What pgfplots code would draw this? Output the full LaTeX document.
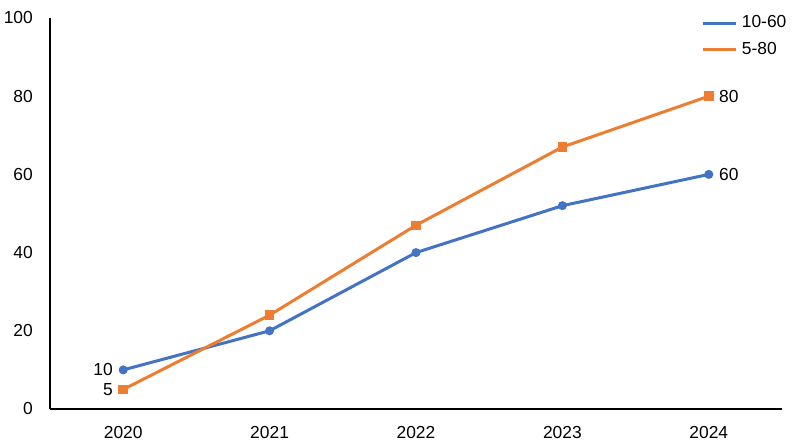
\documentclass[border=0pt]{standalone}
\usepackage{fontspec}
\setmainfont{Liberation Sans}
\usepackage{pgfplots}
\pgfplotsset{compat=1.18}

\definecolor{xlblue}{HTML}{4472C4}
\definecolor{xlorange}{HTML}{ED7D31}

\begin{document}
\begin{tikzpicture}
\fontsize{8.7bp}{10bp}\selectfont
\begin{axis}[
  scale only axis,
  width=366bp, height=195.5bp,
  xmin=-0.5, xmax=4.5,
  ymin=0, ymax=100,
  axis lines*=left,
  axis line style={black, line width=0.8bp},
  xtick={0,1,2,3,4},
  xticklabels={2020,2021,2022,2023,2024},
  ytick={0,20,40,60,80,100},
  major tick length=0pt,
  xticklabel style={yshift=-5.5bp},
  yticklabel style={xshift=-5.5bp},
  tick label style={font=\fontsize{8.7bp}{10bp}\selectfont},
  /pgf/number format/assume math mode=true,
  legend style={at={(rel axis cs:1.012,1.017)}, anchor=north east,
    draw=none, fill=none, font=\fontsize{8.7bp}{10bp}\selectfont,
    row sep=2bp, inner sep=0pt},
  legend cell align=left,
  legend image code/.code={\draw[#1, mark=none] (0bp,0bp) -- (16.5bp,0bp);},
  clip=false,
]
\addplot[color=xlblue, line width=1.5bp, mark=*, mark size=2bp,
  mark options={line width=0.5bp}]
  coordinates {(0,10) (1,20) (2,40) (3,52) (4,60)};
\addlegendentry{10-60}
\addplot[color=xlorange, line width=1.5bp, mark=square*, mark size=2.1bp,
  mark options={line width=0.5bp}]
  coordinates {(0,5) (1,24) (2,47) (3,67) (4,80)};
\addlegendentry{5-80}

\node[anchor=east, inner sep=0pt] at (axis cs:0,10) [xshift=-5bp] {10};
\node[anchor=east, inner sep=0pt] at (axis cs:0,5) [xshift=-5bp] {5};
\node[anchor=west, inner sep=0pt] at (axis cs:4,80) [xshift=5bp] {80};
\node[anchor=west, inner sep=0pt] at (axis cs:4,60) [xshift=5bp] {60};

\coordinate (bl) at (rel axis cs:0,0);
\coordinate (tr) at (rel axis cs:1,1);
\end{axis}
\path (bl) ++(-25bp,-19bp) coordinate (p1);
\path (tr) ++(9bp,9bp) coordinate (p2);
\pgfresetboundingbox
\useasboundingbox (p1) rectangle (p2);
\end{tikzpicture}
\end{document}
